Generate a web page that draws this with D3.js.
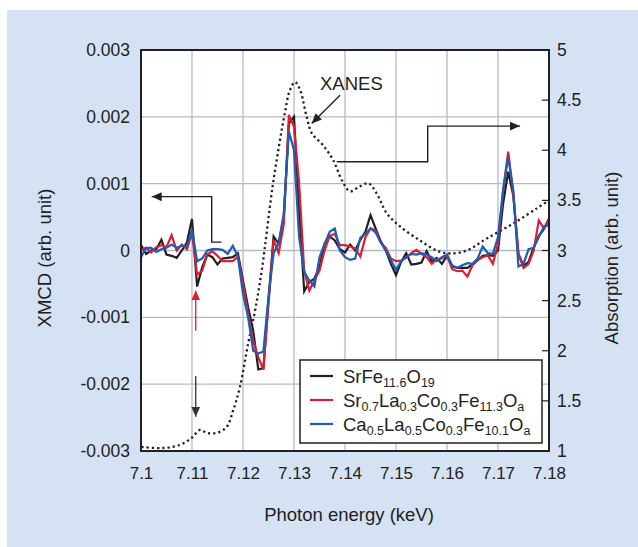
<!DOCTYPE html>
<html><head><meta charset="utf-8">
<script src="https://cdn.jsdelivr.net/npm/d3@7"></script>
<style>
html,body{margin:0;padding:0;background:#fff;}
svg{display:block;font-family:"Liberation Sans",Arial,Helvetica,sans-serif;}
</style></head>
<body><svg id="c" width="638" height="547"></svg>
<script>
// Photon energy grid (keV)
const energies = [7.100,7.101,7.102,7.103,7.104,7.105,7.106,7.107,7.108,7.109,
  7.110,7.111,7.112,7.113,7.114,7.115,7.116,7.117,7.118,7.119,
  7.120,7.121,7.122,7.123,7.124,7.125,7.126,7.127,7.128,7.129,
  7.130,7.131,7.132,7.133,7.134,7.135,7.136,7.137,7.138,7.139,
  7.140,7.141,7.142,7.143,7.144,7.145,7.146,7.147,7.148,7.149,
  7.150,7.151,7.152,7.153,7.154,7.155,7.156,7.157,7.158,7.159,
  7.160,7.161,7.162,7.163,7.164,7.165,7.166,7.167,7.168,7.169,
  7.170,7.171,7.172,7.173,7.174,7.175,7.176,7.177,7.178,7.179,7.180];
// XMCD values in units of 10^-3 (arb. unit)
const xmcdSrFe = [0.08,-0.05,0.0,0.02,0.16,-0.06,-0.08,-0.11,0.0,0.12,
  0.47,-0.54,-0.25,-0.06,-0.1,-0.21,-0.12,-0.11,-0.1,-0.04,
  -0.45,-0.85,-1.2,-1.78,-1.76,-0.74,0.21,0.1,0.5,1.9,
  2.0,0.6,-0.61,-0.47,-0.42,-0.25,0.1,0.21,0.15,0.02,
  -0.03,0.09,0.0,0.16,0.28,0.53,0.33,0.14,0.0,-0.2,
  -0.37,-0.17,-0.04,-0.21,-0.2,-0.18,-0.01,-0.16,-0.11,-0.2,
  -0.08,-0.24,-0.26,-0.26,-0.26,-0.21,-0.15,-0.08,-0.07,-0.08,
  0.0,0.7,1.18,0.82,-0.05,-0.23,-0.17,0.05,0.22,0.32,0.48];
const xmcdSrLaCo = [0.01,0.04,-0.03,0.05,0.08,0.05,0.23,0.0,0.09,0.02,
  0.26,-0.36,-0.3,-0.06,-0.01,-0.08,-0.16,-0.16,-0.16,-0.09,
  -0.5,-0.95,-1.35,-1.6,-1.78,-0.8,0.16,-0.04,0.4,2.03,
  1.85,1.0,-0.3,-0.6,-0.45,-0.3,0.0,0.22,0.25,0.08,
  0.08,0.06,0.03,-0.09,0.2,0.33,0.3,0.12,0.04,-0.12,
  -0.16,-0.15,-0.11,-0.04,0.01,-0.05,-0.1,-0.2,-0.13,-0.12,
  -0.07,-0.28,-0.31,-0.3,-0.39,-0.22,-0.14,-0.1,-0.07,-0.2,
  0.1,0.9,1.48,0.85,-0.05,-0.26,-0.2,0.0,0.45,0.33,0.46];
const xmcdCaLaCo = [-0.1,0.04,0.04,-0.02,0.02,0.04,0.09,0.04,0.07,0.06,
  0.31,-0.16,-0.12,0.0,0.02,0.02,0.01,-0.05,0.07,-0.09,
  -0.65,-1.0,-1.5,-1.54,-1.51,-0.69,-0.04,0.11,0.56,1.78,
  1.5,0.2,-0.32,-0.45,-0.54,-0.1,0.1,0.28,0.33,0.0,
  -0.1,-0.14,-0.12,0.19,0.25,0.33,0.27,0.12,0.0,-0.14,
  -0.29,-0.16,-0.1,-0.05,-0.06,-0.04,-0.06,-0.1,-0.16,-0.1,
  -0.06,-0.22,-0.26,-0.22,-0.19,-0.2,-0.12,0.06,-0.04,-0.05,
  0.2,0.9,1.4,0.9,-0.24,-0.2,0.02,0.04,0.2,0.36,0.38];
// XANES absorption (right axis)
const xanesEnergy = [7.1001,7.1043,7.1076,7.1099,7.1116,7.1129,7.1148,7.1168,7.1181,7.1194,
  7.1210,7.1224,7.1237,7.1259,7.1282,7.1292,7.1302,7.1312,7.1325,7.1335,
  7.1357,7.1377,7.1394,7.1410,7.1429,7.1446,7.1462,7.1482,7.1508,7.1547,
  7.1580,7.1606,7.1639,7.1678,7.1730,7.1776,7.1800];
const xanesAbs = [1.04,1.03,1.06,1.13,1.21,1.18,1.18,1.24,1.41,1.64,
  2.07,2.41,2.81,3.67,4.37,4.60,4.68,4.60,4.33,4.17,
  4.05,3.90,3.70,3.59,3.64,3.67,3.57,3.37,3.24,3.10,
  3.00,2.97,3.00,3.12,3.27,3.42,3.50];

const xTicks = [7.1,7.11,7.12,7.13,7.14,7.15,7.16,7.17,7.18];
const xTickLabels = ["7.1","7.11","7.12","7.13","7.14","7.15","7.16","7.17","7.18"];
const yLeftTicks = [-3,-2,-1,0,1,2,3];
const yLeftTickLabels = ["-0.003","-0.002","-0.001","0","0.001","0.002","0.003"];
const yRightTicks = [1,1.5,2,2.5,3,3.5,4,4.5,5];
const yRightTickLabels = ["1","1.5","2","2.5","3","3.5","4","4.5","5"];

const seriesNames = ["SrFe","SrLaCo","CaLaCo"];
const seriesColors = ["#231f20","#dc1e32","#1b5eb4"];

const svg = d3.select("#c");
const W = 638, H = 547;
const m = {l:141, r:549, t:50, b:451};
const x = d3.scaleLinear().domain([7.1,7.18]).range([m.l,m.r]);
const yL = d3.scaleLinear().domain([-3,3]).range([m.b,m.t]);
const yR = d3.scaleLinear().domain([1,5]).range([m.b,m.t]);

svg.append("rect").attr("x",7).attr("y",10).attr("width",W-7).attr("height",H-10).attr("fill","#d4e2f4");
svg.append("rect").attr("x",m.l).attr("y",m.t).attr("width",m.r-m.l).attr("height",m.b-m.t).attr("fill","#fff");

// grid
const grid = svg.append("g").attr("stroke","#b3bbc9").attr("stroke-width",1.3);
grid.selectAll(".vx").data(xTicks.slice(1,-1)).join("line")
  .attr("x1",d=>x(d)).attr("x2",d=>x(d)).attr("y1",m.t).attr("y2",m.b);
grid.selectAll(".hy").data(yLeftTicks.slice(1,-1)).join("line")
  .attr("x1",m.l).attr("x2",m.r).attr("y1",d=>yL(d)).attr("y2",d=>yL(d));

// axes
const fmtX = (d,i)=>xTickLabels[i];
const gx = svg.append("g").attr("transform",`translate(0,${m.b})`)
  .call(d3.axisBottom(x).tickValues(xTicks).tickFormat(fmtX).tickSize(0).tickPadding(16));
gx.select(".domain").remove();
gx.selectAll("text").attr("font-size",17).attr("fill","#231f20").attr("font-family","Liberation Sans, Arial, sans-serif");

const gl = svg.append("g").attr("transform",`translate(${m.l},0)`)
  .call(d3.axisLeft(yL).tickValues(yLeftTicks).tickFormat((d,i)=>yLeftTickLabels[i]).tickSize(0).tickPadding(11));
gl.select(".domain").remove();
gl.selectAll("text").attr("font-size",17.5).attr("fill","#231f20").attr("font-family","Liberation Sans, Arial, sans-serif");

const gr = svg.append("g").attr("transform",`translate(${m.r},0)`)
  .call(d3.axisRight(yR).tickValues(yRightTicks).tickFormat((d,i)=>yRightTickLabels[i]).tickSize(0).tickPadding(8));
gr.select(".domain").remove();
gr.selectAll("text").attr("font-size",17.5).attr("fill","#231f20").attr("font-family","Liberation Sans, Arial, sans-serif");
// inward ticks on right axis
svg.append("g").selectAll("line").data(yRightTicks.slice(1,-1)).join("line")
  .attr("x1",m.r-7).attr("x2",m.r).attr("y1",d=>yR(d)).attr("y2",d=>yR(d))
  .attr("stroke","#231f20").attr("stroke-width",1.2);

// XANES dotted
const xanesData = xanesEnergy.map((e,i)=>[e,xanesAbs[i]]);
svg.append("path").datum(xanesData)
  .attr("d",d3.line().x(d=>x(d[0])).y(d=>yR(d[1])).curve(d3.curveCatmullRom.alpha(0.5)))
  .attr("fill","none").attr("stroke","#231f20").attr("stroke-width",2.3)
  .attr("stroke-dasharray","2.2,3");

// XMCD lines
const allSeries = [xmcdSrFe, xmcdSrLaCo, xmcdCaLaCo];
const lineGen = d3.line().x(d=>x(d[0])).y(d=>yL(d[1]));
allSeries.forEach((vals,k)=>{
  svg.append("path").datum(energies.map((e,i)=>[e,vals[i]]))
    .attr("d",lineGen).attr("fill","none").attr("stroke",seriesColors[k])
    .attr("stroke-width",2.2).attr("stroke-linejoin","miter");
});

// frame
svg.append("rect").attr("x",m.l).attr("y",m.t).attr("width",m.r-m.l).attr("height",m.b-m.t)
  .attr("fill","none").attr("stroke","#231f20").attr("stroke-width",2);

// arrowheads
const defs = svg.append("defs");
function marker(id,color){
  defs.append("marker").attr("id",id).attr("viewBox","0 0 10 10").attr("refX",10).attr("refY",5)
    .attr("markerWidth",10).attr("markerHeight",10).attr("markerUnits","userSpaceOnUse").attr("orient","auto")
    .append("path").attr("d","M0,0.5L10,5L0,9.5Z").attr("fill",color);
}
marker("ab","#231f20"); marker("ar","#dc1e32"); marker("ag","#333");

// annotation anchors in data units
const leftBracket = [[7.1158,0.125],[7.11386,0.125],[7.11386,0.806],[7.1021,0.806]];
const rightBracket = [[7.13837,1.328],[7.15622,1.328],[7.15622,1.861],[7.17431,1.861]];
const xanesArrow = [[7.13902,2.324],[7.13347,1.901]];
const redArrow = [[7.11073,-1.199],[7.11073,-0.597]];
const downArrow = [[7.11073,-1.877],[7.11073,-2.487]];
const ann = d3.line().x(d=>x(d[0])).y(d=>yL(d[1]));
[[leftBracket,"#231f20","ab",1.4],[rightBracket,"#231f20","ab",1.4],[xanesArrow,"#231f20","ab",1.4],
 [redArrow,"#dc1e32","ar",1.3],[downArrow,"#333","ag",1.3]].forEach(([pts,c,mk,w])=>{
  svg.append("path").attr("d",ann(pts)).attr("fill","none").attr("stroke",c).attr("stroke-width",w)
    .attr("marker-end",`url(#${mk})`);
});
svg.append("text").attr("x",x(7.1351)).attr("y",yL(2.4)).attr("font-size",18.5).attr("fill","#231f20").text("XANES");

// axis titles
svg.append("text").attr("x",349).attr("y",521).attr("text-anchor","middle").attr("font-size",18.5)
  .attr("fill","#231f20").text("Photon energy (keV)");
svg.append("text").attr("transform","translate(51,258) rotate(-90)").attr("text-anchor","middle")
  .attr("font-size",18.5).attr("fill","#231f20").text("XMCD (arb. unit)");
svg.append("text").attr("transform","translate(618,258) rotate(-90)").attr("text-anchor","middle")
  .attr("font-size",18.5).attr("fill","#231f20").text("Absorption (arb. unit)");

// legend
const legendLabels = [
  [["SrFe",0],["11.6",1],["O",0],["19",1]],
  [["Sr",0],["0.7",1],["La",0],["0.3",1],["Co",0],["0.3",1],["Fe",0],["11.3",1],["O",0],["a",1]],
  [["Ca",0],["0.5",1],["La",0],["0.5",1],["Co",0],["0.3",1],["Fe",0],["10.1",1],["O",0],["a",1]]
];
const lg = svg.append("g");
lg.append("rect").attr("x",300).attr("y",360).attr("width",242).attr("height",83)
  .attr("fill","#fff").attr("stroke","#231f20").attr("stroke-width",1.5);
legendLabels.forEach((parts,k)=>{
  const cy = 376 + k*24;
  lg.append("line").attr("x1",310).attr("x2",333).attr("y1",cy).attr("y2",cy)
    .attr("stroke",seriesColors[k]).attr("stroke-width",2.2);
  const t = lg.append("text").attr("x",343).attr("y",cy+7).attr("font-size",18.5).attr("fill","#231f20");
  parts.forEach(([s,sub])=>{
    t.append("tspan").attr("font-size",sub?12.5:18.5).attr("dy",0)
      .attr("baseline-shift",sub?"-4":null).text(s);
  });
});
</script></body></html>
